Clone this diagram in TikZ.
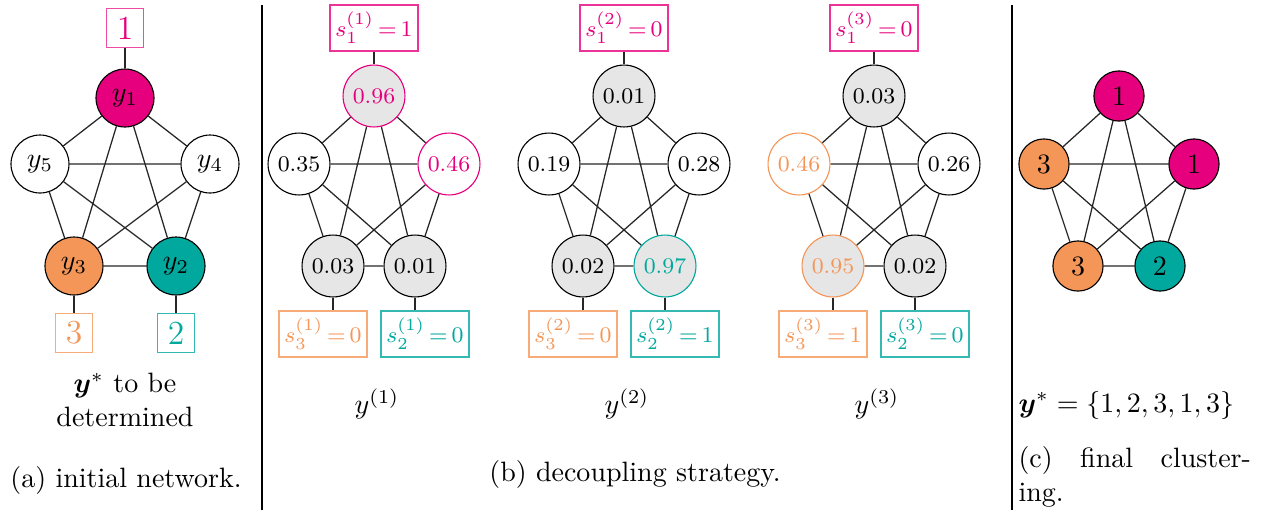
\documentclass[tikz,border=0pt]{standalone}
\usepackage{amsmath}
\usepackage{bm}
\usetikzlibrary{calc}
\definecolor{cmag}{RGB}{230,0,126}
\definecolor{corg}{RGB}{244,150,88}
\definecolor{ctea}{RGB}{0,168,157}
\definecolor{cgry}{RGB}{230,230,230}

\begin{document}
\begin{tikzpicture}[x=0.357pt,y=-0.357pt,
  vtx/.style={circle,draw,inner sep=0pt,minimum size=22.1pt,font=\footnotesize},
  vtxa/.style={circle,draw,inner sep=0pt,minimum size=20.7pt},
  vtxc/.style={circle,draw,inner sep=0pt,minimum size=17.9pt},
  sbox/.style={draw,inner sep=0pt,minimum width=31.4pt,minimum height=16.4pt,font=\footnotesize},
  kbox/.style={draw,inner sep=0pt,minimum width=12.9pt,minimum height=13.9pt,font=\large},
  edge/.style={black!85,line width=0.45pt}]
\useasboundingbox (0,0) rectangle (1264,510);
\draw (262,5) -- (262,510);
\draw (1012,5) -- (1012,510);

\node[vtxa,fill=cmag] (a1) at (125,98) {$y_1$};
\node[vtxa] (a5) at (40,164) {$y_5$};
\node[vtxa] (a4) at (210,164) {$y_4$};
\node[vtxa,fill=corg] (a3) at (74,266) {$y_3$};
\node[vtxa,fill=ctea] (a2) at (176,266) {$y_2$};
\node[kbox,draw=cmag!70,text=cmag] (ak1) at (125,28) {1};
\node[kbox,draw=corg!80,text=corg] (ak3) at (74,333) {3};
\node[kbox,draw=ctea!80,text=ctea] (ak2) at (176,333) {2};
\draw[edge] (a1) -- (a5) (a1) -- (a4) (a1) -- (a3) (a1) -- (a2) (a5) -- (a4)
  (a5) -- (a3) (a5) -- (a2) (a4) -- (a3) (a4) -- (a2) (a3) -- (a2);
\draw[edge] (a1) -- (ak1) (a3) -- (ak3) (a2) -- (ak2);
\node[align=center] (atxt) at (125,400) {$\bm{y}^{*}$ to be\\determined};
\node (acap) at (126,480) {(a) initial network.};

\node[vtx,fill=cgry,draw=cmag,text=cmag] (p1) at (374,96) {0.96};
\node[vtx] (p5) at (299,164) {0.35};
\node[vtx,draw=cmag,text=cmag] (p4) at (449,164) {0.46};
\node[vtx,fill=cgry] (p3) at (333,266) {0.03};
\node[vtx,fill=cgry] (p2) at (415,266) {0.01};
\node[sbox,draw=cmag!80,text=cmag] (ps1) at (374,28) {$s_1^{(1)}\,{=}\,1$};
\node[sbox,draw=corg!80,text=corg] (ps3) at (323,334) {$s_3^{(1)}\,{=}\,0$};
\node[sbox,draw=ctea!80,text=ctea] (ps2) at (425,334) {$s_2^{(1)}\,{=}\,0$};
\draw[edge] (p1) -- (p5) (p1) -- (p4) (p1) -- (p3) (p1) -- (p2) (p5) -- (p4)
  (p5) -- (p3) (p5) -- (p2) (p4) -- (p3) (p4) -- (p2) (p3) -- (p2);
\draw[edge] (p1) -- (ps1) (p3) -- (p3 |- ps3.north) (p2) -- (p2 |- ps2.north);
\node (plbl) at (377,404) {$y^{(1)}$};

\node[vtx,fill=cgry] (q1) at (624,96) {0.01};
\node[vtx] (q5) at (549,164) {0.19};
\node[vtx] (q4) at (699,164) {0.28};
\node[vtx,fill=cgry] (q3) at (583,266) {0.02};
\node[vtx,fill=cgry,draw=ctea,text=ctea] (q2) at (665,266) {0.97};
\node[sbox,draw=cmag!80,text=cmag] (qs1) at (624,28) {$s_1^{(2)}\,{=}\,0$};
\node[sbox,draw=corg!80,text=corg] (qs3) at (573,334) {$s_3^{(2)}\,{=}\,0$};
\node[sbox,draw=ctea!80,text=ctea] (qs2) at (675,334) {$s_2^{(2)}\,{=}\,1$};
\draw[edge] (q1) -- (q5) (q1) -- (q4) (q1) -- (q3) (q1) -- (q2) (q5) -- (q4)
  (q5) -- (q3) (q5) -- (q2) (q4) -- (q3) (q4) -- (q2) (q3) -- (q2);
\draw[edge] (q1) -- (qs1) (q3) -- (q3 |- qs3.north) (q2) -- (q2 |- qs2.north);
\node (qlbl) at (627,404) {$y^{(2)}$};

\node[vtx,fill=cgry] (r1) at (874,96) {0.03};
\node[vtx,draw=corg,text=corg] (r5) at (799,164) {0.46};
\node[vtx] (r4) at (949,164) {0.26};
\node[vtx,fill=cgry,draw=corg,text=corg] (r3) at (833,266) {0.95};
\node[vtx,fill=cgry] (r2) at (915,266) {0.02};
\node[sbox,draw=cmag!80,text=cmag] (rs1) at (874,28) {$s_1^{(3)}\,{=}\,0$};
\node[sbox,draw=corg!80,text=corg] (rs3) at (823,334) {$s_3^{(3)}\,{=}\,1$};
\node[sbox,draw=ctea!80,text=ctea] (rs2) at (925,334) {$s_2^{(3)}\,{=}\,0$};
\draw[edge] (r1) -- (r5) (r1) -- (r4) (r1) -- (r3) (r1) -- (r2) (r5) -- (r4)
  (r5) -- (r3) (r5) -- (r2) (r4) -- (r3) (r4) -- (r2) (r3) -- (r2);
\draw[edge] (r1) -- (rs1) (r3) -- (r3 |- rs3.north) (r2) -- (r2 |- rs2.north);
\node (rlbl) at (877,404) {$y^{(3)}$};

\node (bcap) at (635,474) {(b) decoupling strategy.};

\node[vtxc,fill=cmag] (c1) at (1119,96) {1};
\node[vtxc,fill=corg] (c5) at (1044,164) {3};
\node[vtxc,fill=cmag] (c4) at (1194,164) {1};
\node[vtxc,fill=corg] (c3) at (1078,266) {3};
\node[vtxc,fill=ctea] (c2) at (1160,266) {2};
\draw[edge] (c1) -- (c5) (c1) -- (c4) (c1) -- (c3) (c1) -- (c2) (c5) -- (c4)
  (c5) -- (c3) (c5) -- (c2) (c4) -- (c3) (c4) -- (c2) (c3) -- (c2);
\node[anchor=west,inner sep=0pt] (cres) at (1018,405) {$\bm{y}^{*}=\{1,2,3,1,3\}$};
\node[anchor=north west,inner sep=0pt,text width=83pt,align=left] (ccap) at (1018,446)
  {(c)\hfill final\hfill cluster-\\ing.};
\end{tikzpicture}
\end{document}
